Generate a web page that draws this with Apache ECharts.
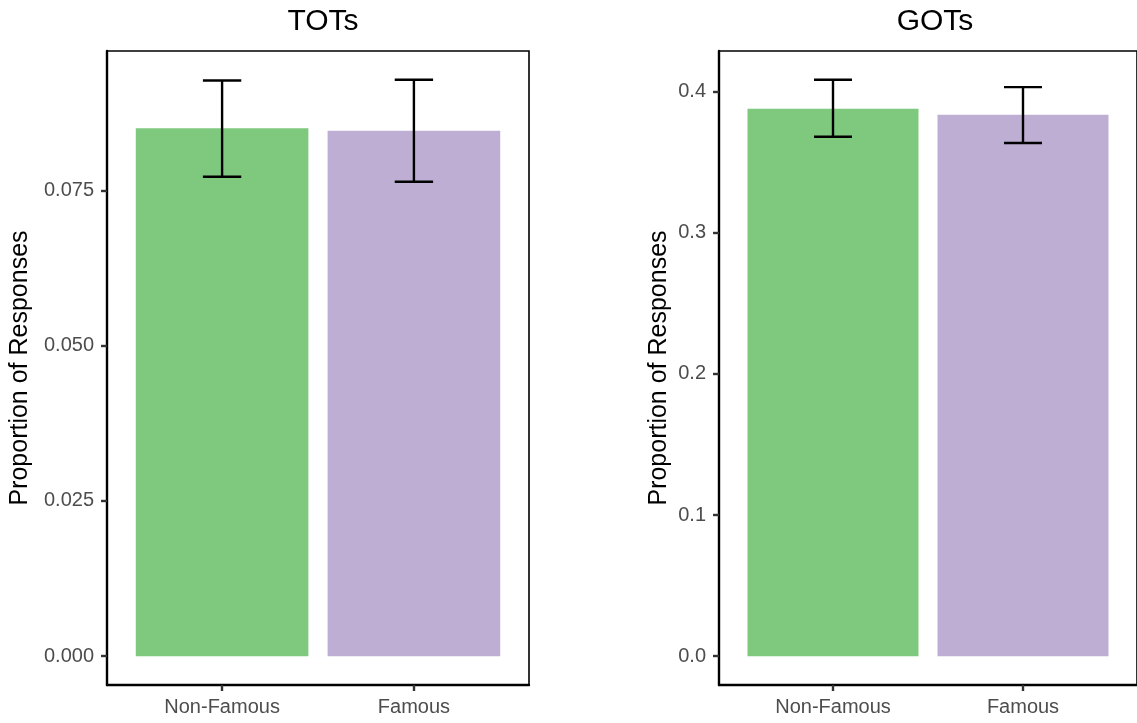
<!DOCTYPE html>
<html>
<head>
<meta charset="utf-8">
<script src="https://cdn.jsdelivr.net/npm/echarts@6/dist/echarts.min.js"></script>
<style>
  html, body { margin: 0; padding: 0; background: #fff; }
  #chart { width: 1137px; height: 723px; }
</style>
</head>
<body>
<div id="chart"></div>
<script>
// Conditions on the x axis (positions 1 and 2)
const categories = ['Non-Famous', 'Famous'];
const barColors = ['#7FC97F', '#BEAED4'];

// Tip-of-the-tongue responses: mean proportion with error bar limits
const totMean  = [0.0850, 0.0846];
const totLower = [0.0772, 0.0764];
const totUpper = [0.0927, 0.0928];

// Gist-of-the-tongue responses
const gotMean  = [0.3878, 0.3836];
const gotLower = [0.3680, 0.3635];
const gotUpper = [0.4083, 0.4031];

// Tick values for the y axes
const totTicks = [0, 0.025, 0.05, 0.075];
const gotTicks = [0, 0.1, 0.2, 0.3, 0.4];

const FONT = 'Liberation Sans, Arial, sans-serif';
const BAR_HALF = 0.45;   // bars are 0.9 category units wide
const CAP_HALF = 0.1;    // error bar caps are 0.2 units wide
const LINE_W = 2.4;

// y range: from 0 to the highest whisker, padded 5% on both ends
function yRange(upper) {
  const top = Math.max.apply(null, upper);
  return { min: -0.05 * top, max: 1.05 * top };
}

function barRender(params, api) {
  const x = api.value(0), y = api.value(1);
  const p0 = api.coord([x - BAR_HALF, y]);
  const p1 = api.coord([x + BAR_HALF, 0]);
  return {
    type: 'rect',
    shape: { x: p0[0], y: p0[1], width: p1[0] - p0[0], height: p1[1] - p0[1] },
    style: { fill: barColors[params.dataIndex] }
  };
}

function errRender(params, api) {
  const x = api.value(0), lo = api.value(1), hi = api.value(2);
  const top = api.coord([x, hi]), bot = api.coord([x, lo]);
  const cl = api.coord([x - CAP_HALF, hi])[0], cr = api.coord([x + CAP_HALF, hi])[0];
  const style = { stroke: '#000', lineWidth: LINE_W };
  return {
    type: 'group',
    children: [
      { type: 'line', shape: { x1: top[0], y1: top[1], x2: bot[0], y2: bot[1] }, style },
      { type: 'line', shape: { x1: cl, y1: top[1], x2: cr, y2: top[1] }, style },
      { type: 'line', shape: { x1: cl, y1: bot[1], x2: cr, y2: bot[1] }, style }
    ]
  };
}

function xAxisFor(gridIndex) {
  return {
    type: 'value', gridIndex, min: 0.4, max: 2.6,
    splitLine: { show: false },
    axisLine: { show: true, onZero: false, lineStyle: { color: '#000', width: LINE_W } },
    axisTick: { show: true, customValues: [1, 2], length: 6, lineStyle: { color: '#333', width: LINE_W } },
    axisLabel: {
      customValues: [1, 2], margin: 12, color: '#4D4D4D', fontSize: 20, fontFamily: FONT,
      formatter: v => categories[Math.round(v) - 1]
    }
  };
}

function yAxisFor(gridIndex, ticks, range, digits, gap) {
  return {
    type: 'value', gridIndex, min: range.min, max: range.max,
    name: 'Proportion of Responses', nameLocation: 'middle', nameRotate: 90, nameGap: gap,
    nameTextStyle: { color: '#000', fontSize: 25, fontFamily: FONT },
    splitLine: { show: false },
    axisLine: { show: true, onZero: false, lineStyle: { color: '#000', width: LINE_W } },
    axisTick: { show: true, customValues: ticks, length: 6, lineStyle: { color: '#333', width: LINE_W } },
    axisLabel: {
      customValues: ticks, margin: 13, color: '#4D4D4D', fontSize: 20, fontFamily: FONT,
      formatter: v => v.toFixed(digits)
    }
  };
}

const totRange = yRange(totUpper);
const gotRange = yRange(gotUpper);

const chart = echarts.init(document.getElementById('chart'), null, { renderer: 'canvas' });

const titleStyle = { fontSize: 30, fontWeight: 'normal', color: '#000', fontFamily: FONT };

chart.setOption({
  backgroundColor: '#fff',
  animation: false,
  title: [
    { text: 'TOTs', left: 318, top: 2, textAlign: 'center', textStyle: titleStyle },
    { text: 'GOTs', left: 930, top: 2, textAlign: 'center', textStyle: titleStyle }
  ],
  grid: [
    { left: 107, top: 51, width: 422, height: 634, show: true, borderColor: '#000', borderWidth: 1.6 },
    { left: 719, top: 51, width: 422, height: 634, show: true, borderColor: '#000', borderWidth: 1.6 }
  ],
  xAxis: [xAxisFor(0), xAxisFor(1)],
  yAxis: [
    yAxisFor(0, totTicks, totRange, 3, 74),
    yAxisFor(1, gotTicks, gotRange, 1, 47)
  ],
  series: [
    { type: 'custom', xAxisIndex: 0, yAxisIndex: 0, renderItem: barRender,
      data: totMean.map((v, i) => [i + 1, v]) },
    { type: 'custom', xAxisIndex: 0, yAxisIndex: 0, renderItem: errRender,
      data: totMean.map((v, i) => [i + 1, totLower[i], totUpper[i]]) },
    { type: 'custom', xAxisIndex: 1, yAxisIndex: 1, renderItem: barRender,
      data: gotMean.map((v, i) => [i + 1, v]) },
    { type: 'custom', xAxisIndex: 1, yAxisIndex: 1, renderItem: errRender,
      data: gotMean.map((v, i) => [i + 1, gotLower[i], gotUpper[i]]) }
  ]
});
</script>
</body>
</html>
